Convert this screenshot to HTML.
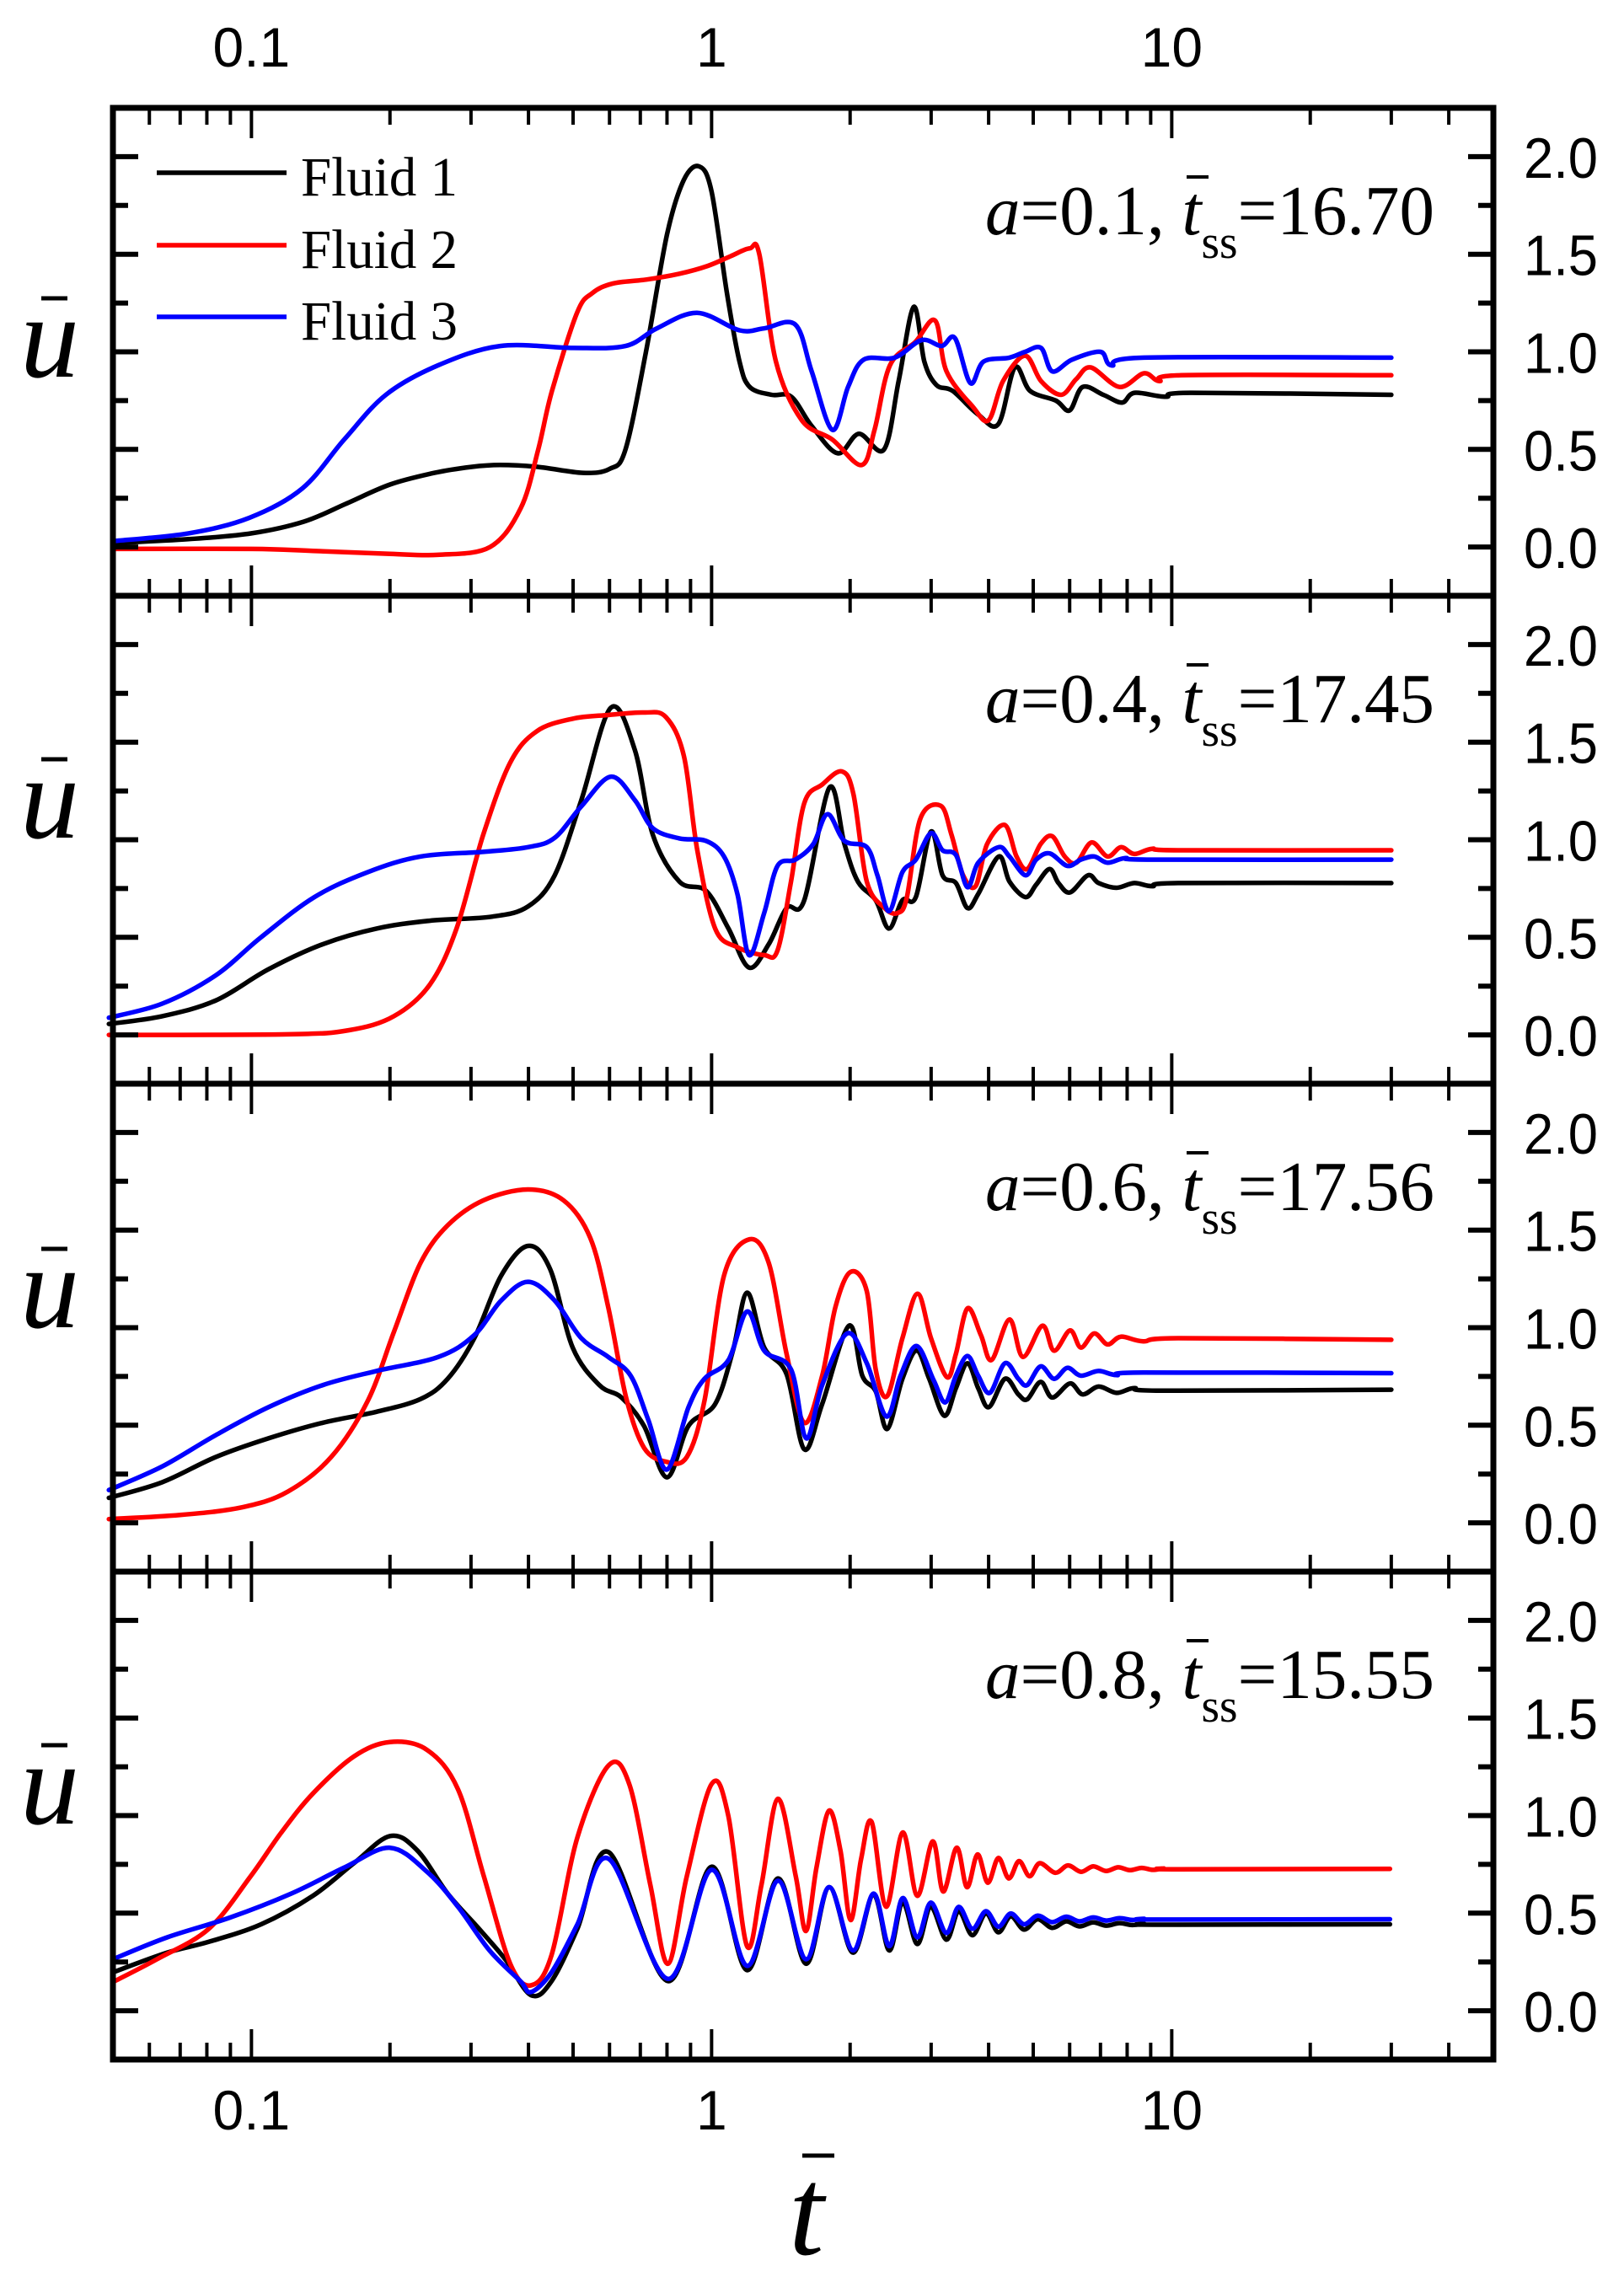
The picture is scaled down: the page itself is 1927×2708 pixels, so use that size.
<!DOCTYPE html>
<html><head><meta charset="utf-8">
<style>
html,body{margin:0;padding:0;background:#fff;}
svg{display:block;}
</style></head>
<body>
<svg id="chart" width="1927" height="2708" viewBox="0 0 1927 2708" xmlns="http://www.w3.org/2000/svg">
<rect x="0" y="0" width="1927" height="2708" fill="#fff"/>
<g id="panels"></g>
<g id="texts"></g>
</svg>
<script>
// ---- data ----
const panelLabels = ["0.1", "0.4", "0.6", "0.8"];
const panelTss = ["16.70", "17.45", "17.56", "15.55"];
const seriesNames = ["Fluid 1", "Fluid 2", "Fluid 3"];
const xTickLabels = ["0.1", "1", "10"];
const xTickValues = [0.1, 1, 10];
const yTickLabels = ["0.0", "0.5", "1.0", "1.5", "2.0"];
const yTickValues = [0, 0.5, 1.0, 1.5, 2.0];

// Panel 1 (a=0.1)
const p1BlackT = [0.05,0.073,0.1,0.13,0.16,0.2,0.25,0.3,0.347,0.42,0.525,0.6,0.65,0.72,0.8,0.87,0.94,1.0,1.08,1.15,1.21,1.35,1.49,1.65,1.88,2.09,2.37,2.55,2.75,2.9,3.08,3.34,3.79,4.2,4.56,4.92,5.6,6.0,6.4,7.1,7.8,8.3,9.7,11,30];
const p1BlackU = [0.02,0.04,0.07,0.13,0.22,0.32,0.38,0.41,0.42,0.41,0.38,0.40,0.5,1.0,1.6,1.88,1.95,1.82,1.3,0.95,0.82,0.78,0.77,0.62,0.48,0.58,0.5,0.85,1.23,0.95,0.83,0.8,0.68,0.63,0.92,0.8,0.75,0.7,0.82,0.78,0.74,0.79,0.77,0.79,0.78];
const p1RedT = [0.05,0.1,0.136,0.2,0.254,0.33,0.385,0.42,0.45,0.51,0.55,0.61,0.72,0.85,0.98,1.1,1.21,1.27,1.38,1.57,1.83,2.12,2.26,2.44,2.77,3.06,3.24,3.69,4.0,4.3,4.8,5.2,5.75,6.2,6.67,7.7,8.7,9.4,10.5,30];
const p1RedU = [-0.01,-0.01,-0.02,-0.035,-0.04,0,0.2,0.5,0.8,1.2,1.3,1.35,1.37,1.4,1.44,1.49,1.53,1.5,0.95,0.65,0.55,0.42,0.6,0.93,1.05,1.16,0.9,0.72,0.65,0.85,0.98,0.85,0.78,0.86,0.92,0.82,0.89,0.85,0.88,0.88];
const p1BlueT = [0.05,0.073,0.099,0.129,0.159,0.196,0.254,0.347,0.5,0.65,0.76,0.93,1.15,1.3,1.52,1.65,1.83,1.98,2.14,2.5,2.86,3.16,3.38,3.65,3.9,4.44,4.8,5.2,5.5,6.07,7.0,7.4,8.7,30];
const p1BlueU = [0.03,0.07,0.15,0.3,0.55,0.78,0.93,1.03,1.02,1.03,1.12,1.2,1.11,1.12,1.14,0.9,0.6,0.82,0.96,0.97,1.06,1.03,1.07,0.84,0.95,0.97,1.0,1.02,0.9,0.96,1.0,0.93,0.97,0.97];

// Panel 2 (a=0.4)
const p2BlackT = [0.049,0.064,0.0836,0.109,0.143,0.187,0.244,0.333,0.399,0.456,0.521,0.604,0.681,0.745,0.851,0.973,1.088,1.206,1.331,1.455,1.590,1.803,1.944,2.079,2.273,2.430,2.598,2.779,2.998,3.176,3.396,3.599,3.797,4.207,4.439,4.811,5.075,5.427,5.674,6.013,6.575,6.937,7.584,8.290,9.066,10.36,30];
const p2BlackU = [0.056,0.096,0.176,0.337,0.465,0.545,0.585,0.606,0.658,0.818,1.203,1.676,1.460,1.026,0.786,0.738,0.545,0.345,0.465,0.650,0.690,1.267,0.978,0.786,0.690,0.545,0.690,0.706,1.042,0.818,0.778,0.650,0.722,0.914,0.786,0.706,0.770,0.850,0.778,0.730,0.818,0.778,0.754,0.778,0.762,0.778,0.778];
const p2RedT = [0.049,0.120,0.163,0.204,0.244,0.279,0.319,0.365,0.417,0.499,0.596,0.713,0.796,0.871,0.931,1.018,1.138,1.301,1.391,1.488,1.590,1.739,1.918,2.033,2.174,2.377,2.541,2.657,2.841,3.148,3.321,3.520,3.747,3.970,4.341,4.600,4.853,5.190,5.500,5.853,6.204,6.693,7.254,7.754,8.290,9.066,10.36,30];
const p2RedU = [0,0.003,0.024,0.096,0.257,0.545,1.026,1.395,1.556,1.620,1.639,1.652,1.628,1.427,0.946,0.545,0.449,0.409,0.433,0.786,1.187,1.283,1.350,1.235,0.786,0.650,0.625,0.706,1.107,1.174,1.026,0.818,0.762,0.978,1.075,0.914,0.850,0.978,1.018,0.914,0.882,0.986,0.914,0.962,0.927,0.954,0.946,0.946];
const p2BlueT = [0.049,0.064,0.0836,0.1045,0.137,0.179,0.233,0.319,0.399,0.456,0.521,0.604,0.681,0.745,0.851,0.973,1.064,1.138,1.206,1.301,1.391,1.521,1.663,1.786,1.944,2.174,2.293,2.430,2.598,2.779,2.998,3.176,3.396,3.599,3.797,4.207,4.439,4.811,5.075,5.427,5.932,6.344,6.784,7.254,7.930,9.066,30];
const p2BlueU = [0.088,0.160,0.305,0.497,0.706,0.834,0.914,0.938,0.962,1.010,1.171,1.323,1.203,1.059,1.007,0.994,0.914,0.722,0.409,0.625,0.866,0.898,0.978,1.131,0.994,0.962,0.818,0.634,0.834,0.898,1.034,0.946,0.922,0.757,0.882,0.962,0.914,0.818,0.898,0.930,0.866,0.898,0.914,0.882,0.906,0.898,0.898];

// Panel 3 (a=0.6)
const p3BlackT = [0.049,0.064,0.0836,0.109,0.143,0.187,0.233,0.267,0.305,0.349,0.399,0.446,0.499,0.570,0.637,0.713,0.800,0.891,1.018,1.113,1.195,1.301,1.455,1.590,1.739,1.988,2.126,2.273,2.409,2.598,2.791,2.971,3.205,3.396,3.599,3.797,4.006,4.341,4.642,4.853,5.190,5.500,6.013,6.401,6.937,7.584,8.290,9.478,30];
const p3BlackU = [0.128,0.208,0.337,0.433,0.513,0.569,0.634,0.738,0.946,1.267,1.419,1.299,0.898,0.706,0.642,0.497,0.233,0.497,0.609,0.882,1.179,0.898,0.762,0.377,0.609,1.010,0.754,0.674,0.481,0.738,0.882,0.738,0.549,0.690,0.818,0.690,0.593,0.738,0.658,0.633,0.722,0.642,0.714,0.658,0.698,0.666,0.690,0.677,0.682];
const p3RedT = [0.049,0.070,0.0957,0.120,0.149,0.179,0.204,0.233,0.267,0.319,0.399,0.477,0.545,0.596,0.652,0.713,0.796,0.883,0.965,1.064,1.206,1.331,1.455,1.590,1.739,1.859,2.006,2.174,2.273,2.409,2.598,2.804,2.998,3.248,3.396,3.599,3.848,4.060,4.439,4.747,5.236,5.549,6.013,6.344,6.784,7.254,7.754,8.670,10.36,30];
const p3RedU = [0.019,0.040,0.080,0.160,0.337,0.625,0.978,1.331,1.524,1.652,1.708,1.652,1.460,1.107,0.642,0.385,0.313,0.337,0.625,1.267,1.452,1.331,0.866,0.513,0.754,1.107,1.286,1.187,0.786,0.650,0.946,1.174,0.946,0.746,0.866,1.099,0.962,0.834,1.042,0.850,1.010,0.882,0.986,0.898,0.970,0.914,0.954,0.930,0.946,0.938];
const p3BlueT = [0.049,0.064,0.0836,0.109,0.143,0.187,0.255,0.305,0.349,0.399,0.456,0.521,0.596,0.667,0.728,0.800,0.891,0.965,1.088,1.195,1.301,1.488,1.605,1.739,1.970,2.174,2.398,2.575,2.791,3.038,3.219,3.396,3.599,3.797,4.024,4.341,4.642,4.853,5.190,5.549,5.932,6.344,6.937,7.584,8.670,30];
const p3BlueU = [0.168,0.289,0.449,0.593,0.706,0.778,0.850,0.962,1.139,1.235,1.139,0.946,0.850,0.754,0.529,0.273,0.593,0.738,0.834,1.083,0.882,0.786,0.433,0.706,0.970,0.818,0.545,0.754,0.906,0.730,0.617,0.754,0.855,0.754,0.666,0.818,0.738,0.706,0.802,0.738,0.794,0.754,0.778,0.757,0.770,0.767];

// Panel 4 (a=0.8)
const p4RedT = [0.050,0.0623,0.0808,0.0995,0.116,0.136,0.167,0.200,0.241,0.281,0.320,0.365,0.405,0.449,0.511,0.598,0.663,0.736,0.804,0.883,1.0,1.087,1.194,1.283,1.394,1.524,1.604,1.690,1.799,1.905,2.005,2.113,2.227,2.394,2.602,2.799,3.025,3.187,3.41,3.59,3.784,3.984,4.199,4.425,4.657,4.908,5.164,5.583,5.95,6.35,6.75,7.2,7.65,8.1,8.6,9.1,9.6,10.2,29.8];
const p4RedU = [0.147,0.264,0.420,0.688,0.912,1.113,1.303,1.377,1.336,1.135,0.688,0.241,0.130,0.286,0.889,1.258,1.158,0.644,0.241,0.688,1.162,1.001,0.331,0.644,1.086,0.688,0.409,0.733,1.025,0.822,0.465,0.778,0.968,0.533,0.913,0.589,0.868,0.611,0.835,0.633,0.801,0.656,0.783,0.678,0.767,0.689,0.756,0.707,0.745,0.712,0.740,0.716,0.735,0.720,0.732,0.722,0.729,0.725,0.727];
const p4BlackT = [0.050,0.0656,0.0808,0.105,0.136,0.167,0.200,0.229,0.267,0.312,0.356,0.405,0.449,0.511,0.598,0.804,1.0,1.194,1.394,1.604,1.799,2.028,2.249,2.432,2.602,2.799,2.994,3.237,3.444,3.686,3.945,4.199,4.468,4.776,5.112,5.496,5.9,6.3,6.75,7.2,7.7,8.2,8.7,9.3,29.8];
const p4BlackU = [0.197,0.298,0.353,0.443,0.589,0.756,0.895,0.823,0.600,0.421,0.264,0.080,0.152,0.421,0.812,0.152,0.738,0.208,0.678,0.241,0.633,0.298,0.595,0.309,0.554,0.342,0.532,0.364,0.510,0.387,0.498,0.402,0.483,0.416,0.469,0.425,0.458,0.432,0.453,0.436,0.449,0.439,0.445,0.441,0.443];
const p4BlueT = [0.050,0.0656,0.0897,0.122,0.159,0.200,0.241,0.281,0.329,0.384,0.405,0.449,0.511,0.598,0.804,1.0,1.194,1.394,1.604,1.799,2.028,2.249,2.432,2.602,2.799,2.994,3.237,3.444,3.686,3.945,4.199,4.468,4.776,5.112,5.496,5.9,6.3,6.75,7.2,7.7,8.2,8.7,9.3,29.8];
const p4BlueU = [0.264,0.376,0.477,0.600,0.733,0.835,0.711,0.533,0.309,0.152,0.096,0.197,0.443,0.778,0.163,0.722,0.230,0.666,0.264,0.633,0.309,0.600,0.331,0.577,0.376,0.554,0.398,0.532,0.420,0.510,0.431,0.498,0.443,0.487,0.454,0.482,0.458,0.478,0.462,0.474,0.465,0.471,0.467,0.469];

const panelSeries = [
  [[p1BlackT,p1BlackU],[p1RedT,p1RedU],[p1BlueT,p1BlueU]],
  [[p2BlackT,p2BlackU],[p2RedT,p2RedU],[p2BlueT,p2BlueU]],
  [[p3BlackT,p3BlackU],[p3RedT,p3RedU],[p3BlueT,p3BlueU]],
  [[p4BlackT,p4BlackU],[p4RedT,p4RedU],[p4BlueT,p4BlueU]]
];

// ---- layout ----
const NS = "http://www.w3.org/2000/svg";
const L = 134, R = 1772, TOP = 128, PH = 579;
const colors = ["#000000", "#ff0000", "#0000ff"];
const X_MIN = 0.05, X_MAX = 50, Y_MIN = -0.25, Y_MAX = 2.25;
function xScale(t) { return L + (R - L) * (Math.log10(t) - Math.log10(X_MIN)) / (Math.log10(X_MAX) - Math.log10(X_MIN)); }
function yScale(u, p) { const top = TOP + p * PH; return top + (Y_MAX - u) / (Y_MAX - Y_MIN) * PH; }

function mk(tag, attrs, parent) {
  const e = document.createElementNS(NS, tag);
  for (const k in attrs) e.setAttribute(k, attrs[k]);
  parent.appendChild(e);
  return e;
}
function smoothPath(pts) {
  let d = "M" + pts[0][0].toFixed(1) + "," + pts[0][1].toFixed(1);
  for (let i = 0; i < pts.length - 1; i++) {
    const p0 = pts[Math.max(0, i - 1)], p1 = pts[i], p2 = pts[i + 1], p3 = pts[Math.min(pts.length - 1, i + 2)];
    const k = 1 / 6;
    const c1x = p1[0] + (p2[0] - p0[0]) * k, c1y = p1[1] + (p2[1] - p0[1]) * k;
    const c2x = p2[0] - (p3[0] - p1[0]) * k, c2y = p2[1] - (p3[1] - p1[1]) * k;
    d += "C" + c1x.toFixed(1) + "," + c1y.toFixed(1) + " " + c2x.toFixed(1) + "," + c2y.toFixed(1) + " " + p2[0].toFixed(1) + "," + p2[1].toFixed(1);
  }
  return d;
}

const panelsG = document.getElementById("panels");
const textsG = document.getElementById("texts");
const xMinorVals = [];
[0.01, 0.1, 1, 10].forEach(dec => { for (let m = 2; m <= 9; m++) { const v = dec * m; if (v > X_MIN && v < X_MAX) xMinorVals.push(v); } });

for (let p = 0; p < 4; p++) {
  const top = TOP + p * PH, bot = top + PH;
  const g = mk("g", {}, panelsG);
  
  
  const sg = mk("g", {}, g);
  
  
  for (let s = 0; s < 3; s++) {
    const [T, U] = panelSeries[p][s];
    const pts = T.map((t, i) => [xScale(t), yScale(U[i], p)]);
    const path = mk("path", { d: smoothPath(pts), fill: "none", stroke: colors[s], "stroke-width": 5.5, "stroke-linejoin": "round", "stroke-linecap": "round" }, sg);
    
    
  }
  for (let i = 0; i <= 8; i++) {
    const v = i * 0.25;
    const y = yScale(v, p);
    const len = (i % 2 === 0) ? 30 : 18;
    const tl = mk("line", { x1: L, x2: L + len, y1: y, y2: y, stroke: "#000", "stroke-width": 6 }, g);
    
    
    const tr = mk("line", { x1: R, x2: R - len, y1: y, y2: y, stroke: "#000", "stroke-width": 6 }, g);
    
    
  }
  yTickValues.forEach((v, i) => {
    const t = mk("text", { x: 1852, y: yScale(v, p) + 25, "text-anchor": "middle", "font-family": "Liberation Sans, Arial, sans-serif", "font-size": 68, textLength: 88, lengthAdjust: "spacingAndGlyphs" }, textsG);
    t.textContent = yTickLabels[i];
    
    
  });
  xTickValues.forEach(v => {
    const x = xScale(v);
    const a = mk("line", { x1: x, x2: x, y1: top, y2: top + 36, stroke: "#000", "stroke-width": 4 }, g);
    
    
    const b = mk("line", { x1: x, x2: x, y1: bot, y2: bot - 36, stroke: "#000", "stroke-width": 4 }, g);
    
    
  });
  xMinorVals.forEach(v => {
    const x = xScale(v);
    const a = mk("line", { x1: x, x2: x, y1: top, y2: top + 20, stroke: "#000", "stroke-width": 4 }, g);
    
    
    const b = mk("line", { x1: x, x2: x, y1: bot, y2: bot - 20, stroke: "#000", "stroke-width": 4 }, g);
    
    
  });
  const fr = mk("rect", { x: L, y: top, width: R - L, height: PH, fill: "none", stroke: "#000", "stroke-width": 7 }, g);
  
  
  const ann = mk("text", { x: 1169, y: top + 150, "font-family": "Liberation Serif, Times New Roman, serif", "font-size": 84, textLength: 533, lengthAdjust: "spacingAndGlyphs" }, textsG);
  
  
  const s1 = mk("tspan", { "font-style": "italic" }, ann); s1.textContent = "a";
  const s2 = mk("tspan", {}, ann); s2.textContent = "=" + panelLabels[p] + ", ";
  const s3 = mk("tspan", { "font-style": "italic" }, ann); s3.textContent = "t";
  const s4 = mk("tspan", { dy: 28, "font-size": 56 }, ann); s4.textContent = "ss";
  const s5 = mk("tspan", { dy: -28 }, ann); s5.textContent = "=" + panelTss[p];
  const bar = mk("line", { x1: 1408, x2: 1434, y1: top + 82, y2: top + 82, stroke: "#000", "stroke-width": 4 }, textsG);
  
  
}

const uBase = [447, 994, 1575, 2164];
uBase.forEach((b, i) => {
  const t = mk("text", { x: 24, y: b, "font-family": "Liberation Serif, Times New Roman, serif", "font-style": "italic", "font-size": 140 }, textsG);
  t.textContent = "u";
  
  
  const bar = mk("line", { x1: 49, x2: 80, y1: b - 93, y2: b - 93, stroke: "#000", "stroke-width": 5 }, textsG);
  
  
});

xTickValues.forEach((v, i) => {
  const x = xScale(v);
  const a = mk("text", { x: x, y: 79, "text-anchor": "middle", "font-family": "Liberation Sans, Arial, sans-serif", "font-size": 66 }, textsG);
  a.textContent = xTickLabels[i];
  
  
  const b = mk("text", { x: x, y: 2527, "text-anchor": "middle", "font-family": "Liberation Sans, Arial, sans-serif", "font-size": 66 }, textsG);
  b.textContent = xTickLabels[i];
  
  
});

const xt = mk("text", { x: 936, y: 2675, "font-family": "Liberation Serif, Times New Roman, serif", "font-style": "italic", "font-size": 150 }, textsG);
xt.textContent = "t";


const xtb = mk("line", { x1: 952, x2: 990, y1: 2558, y2: 2558, stroke: "#000", "stroke-width": 5 }, textsG);



const legY = [205, 291, 376];
seriesNames.forEach((n, i) => {
  const g = mk("g", {}, textsG);
  
  
  mk("line", { x1: 186, x2: 340, y1: legY[i], y2: legY[i], stroke: colors[i], "stroke-width": 5.5 }, g);
  const t = mk("text", { x: 357, y: legY[i] + 27, "font-family": "Liberation Serif, Times New Roman, serif", "font-size": 66, textLength: 186, lengthAdjust: "spacingAndGlyphs" }, g);
  t.textContent = n;
});
</script>
</body></html>
